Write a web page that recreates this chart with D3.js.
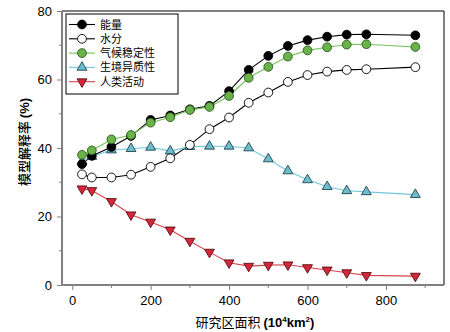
<!DOCTYPE html>
<html>
<head>
<meta charset="utf-8">
<script src="https://cdn.jsdelivr.net/npm/d3@7"></script>
<style>
  html, body { margin: 0; padding: 0; background: #fff; }
  svg { display: block; }
</style>
</head>
<body>
<svg id="chart" width="450" height="332"></svg>
<script>
// Study-area sizes (10^4 km^2)
const areas = [25, 50, 100, 150, 200, 250, 300, 350, 400, 450, 500, 550, 600, 650, 700, 750, 875];

// Explained variance (%) of each factor group
const energy      = [35.3, 37.7, 40.3, 43.5, 48.2, 49.5, 51.3, 52.3, 56.6, 62.8, 66.9, 69.8, 71.5, 72.5, 73.1, 73.2, 72.9];
const water       = [32.3, 31.4, 31.4, 32.2, 34.5, 37.0, 40.9, 45.5, 48.9, 53.2, 56.2, 59.3, 61.3, 62.3, 62.8, 63.0, 63.6];
const climateStab = [38.0, 39.3, 42.5, 43.8, 47.4, 49.0, 51.1, 52.0, 55.2, 60.5, 63.7, 66.7, 68.5, 69.4, 70.2, 70.3, 69.5];
const habitatHet  = [36.0, 37.5, 39.4, 39.8, 40.2, 39.1, 40.4, 40.5, 40.5, 40.0, 36.8, 33.3, 30.7, 28.7, 27.5, 27.2, 26.4];
const human       = [28.1, 27.6, 24.4, 20.5, 18.4, 16.1, 12.8, 9.6, 6.5, 5.5, 5.8, 5.9, 5.1, 4.4, 3.6, 2.8, 2.6];

const seriesNames = ["能量", "水分", "气候稳定性", "生境异质性", "人类活动"];
const xTicks = [0, 200, 400, 600, 800];
const yTicks = [0, 20, 40, 60, 80];

const styles = [
  { values: energy,      line: "#000000", fill: "#000000", stroke: "#000000", shape: "circle" },
  { values: water,       line: "#000000", fill: "#ffffff", stroke: "#000000", shape: "circle" },
  { values: climateStab, line: "#72c455", fill: "#6ab24a", stroke: "#2d5a1e", shape: "circle" },
  { values: habitatHet,  line: "#72c8dc", fill: "#6fbccb", stroke: "#1f4550", shape: "up" },
  { values: human,       line: "#d8434a", fill: "#d5263a", stroke: "#5a1016", shape: "down" }
];

const svg = d3.select("#chart");
const plotL = 62, plotR = 444, plotT = 11, plotB = 285;

const x = d3.scaleLinear().domain([-26, 948]).range([plotL, plotR]);
const y = d3.scaleLinear().domain([0, 80]).range([plotB, plotT]);

const tickFont = "'Liberation Sans', Arial, sans-serif";
const cjkFont = "'Noto Sans CJK SC', sans-serif";
const axisGrey = "#808080";

// frame: top and right edges
svg.append("path")
  .attr("d", `M${plotL},${plotT}H${plotR}V${plotB}`)
  .attr("fill", "none").attr("stroke", "#000").attr("stroke-width", 1);

// minor ticks
const gMinor = svg.append("g");
d3.range(100, 901, 200).forEach(v => {
  gMinor.append("line").attr("x1", x(v)).attr("x2", x(v))
    .attr("y1", plotB).attr("y2", plotB + 3)
    .attr("stroke", axisGrey);
});
d3.range(10, 80, 20).forEach(v => {
  gMinor.append("line").attr("y1", y(v)).attr("y2", y(v))
    .attr("x1", plotL).attr("x2", plotL - 3)
    .attr("stroke", axisGrey);
});

// bottom axis
const xAxis = svg.append("g")
  .attr("transform", `translate(0,${plotB})`)
  .call(d3.axisBottom(x).tickValues(xTicks).tickSize(5).tickPadding(6).tickSizeOuter(0));
// left axis
const yAxis = svg.append("g")
  .attr("transform", `translate(${plotL},0)`)
  .call(d3.axisLeft(y).tickValues(yTicks).tickSize(5).tickPadding(5).tickSizeOuter(0));

[xAxis, yAxis].forEach(g => {
  g.select(".domain").attr("stroke", axisGrey).attr("stroke-width", 2);
  g.selectAll(".tick line").attr("stroke", axisGrey);
  g.selectAll(".tick text")
    .attr("font-family", tickFont).attr("font-size", 13).attr("fill", "#000");
});
yAxis.select(".domain").attr("d", `M0,${plotT}V${plotB}`);
xAxis.select(".domain").attr("d", `M${plotL},0H${plotR}`);

// data lines
const line = d3.line().x((d, i) => x(areas[i])).y(d => y(d));
styles.forEach(s => {
  svg.append("path")
    .datum(s.values)
    .attr("d", line)
    .attr("fill", "none")
    .attr("stroke", s.line)
    .attr("stroke-width", 1.1);
});

// marker factory
const triUp = d3.symbol().type(d3.symbolTriangle).size(42);
function drawMarker(g, s, cx, cy) {
  if (s.shape === "circle") {
    g.append("circle").attr("cx", cx).attr("cy", cy).attr("r", 4.4)
      .attr("fill", s.fill).attr("stroke", s.stroke).attr("stroke-width", 0.9);
  } else {
    const rot = s.shape === "down" ? 180 : 0;
    g.append("path").attr("d", triUp())
      .attr("transform", `translate(${cx},${cy}) rotate(${rot})`)
      .attr("fill", s.fill).attr("stroke", s.stroke).attr("stroke-width", 0.9);
  }
}

// markers; 气候稳定性 drawn last so it sits over 能量
const drawOrder = [4, 3, 1, 0, 2];
drawOrder.forEach(k => {
  const s = styles[k];
  const g = svg.append("g");
  s.values.forEach((v, i) => drawMarker(g, s, x(areas[i]), y(v)));
});

// legend
const leg = svg.append("g");
leg.append("rect").attr("x", 66).attr("y", 14).attr("width", 112).attr("height", 80)
  .attr("fill", "#fff").attr("stroke", "#000").attr("stroke-width", 1);
seriesNames.forEach((name, i) => {
  const s = styles[i];
  const ly = 24.5 + i * 14.3;
  leg.append("line").attr("x1", 69).attr("x2", 95).attr("y1", ly).attr("y2", ly)
    .attr("stroke", s.line).attr("stroke-width", 1.1);
  drawMarker(leg, s, 82, ly);
  leg.append("text").attr("x", 100).attr("y", ly + 4)
    .attr("font-family", cjkFont).attr("font-size", 11).attr("fill", "#000")
    .text(name);
});

// x-axis title
const xt = svg.append("text")
  .attr("x", 255).attr("y", 327)
  .attr("text-anchor", "middle")
  .attr("font-size", 13).attr("fill", "#000");
xt.append("tspan").attr("font-family", cjkFont).text("研究区面积 ");
xt.append("tspan").attr("font-family", tickFont).attr("font-weight", "bold").text("(10");
xt.append("tspan").attr("font-family", tickFont).attr("font-weight", "bold")
  .attr("font-size", 8).attr("dy", -5).text("4");
xt.append("tspan").attr("font-family", tickFont).attr("font-weight", "bold")
  .attr("dy", 5).text("km");
xt.append("tspan").attr("font-family", tickFont).attr("font-weight", "bold")
  .attr("font-size", 8).attr("dy", -5).text("2");
xt.append("tspan").attr("font-family", tickFont).attr("font-weight", "bold")
  .attr("dy", 5).text(")");

// y-axis title
const yt = svg.append("text")
  .attr("transform", "translate(29,142) rotate(-90)")
  .attr("text-anchor", "middle")
  .attr("font-size", 13).attr("fill", "#000");
yt.append("tspan").attr("font-family", cjkFont).attr("font-weight", 500).text("模型解释率 ");
yt.append("tspan").attr("font-family", tickFont).attr("font-weight", "bold").text("(%)");
</script>
</body>
</html>
